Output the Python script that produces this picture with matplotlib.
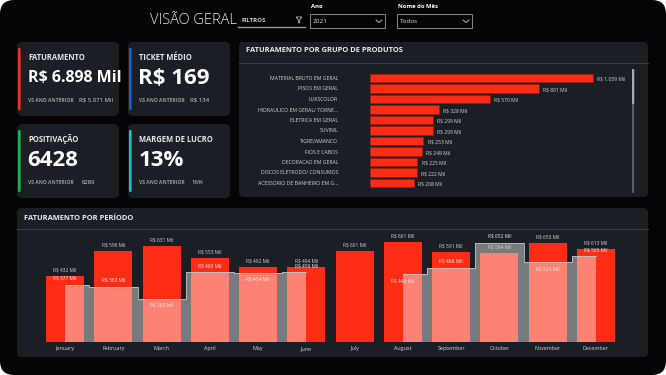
import numpy as np
import matplotlib
matplotlib.use("Agg")
import matplotlib.pyplot as plt
from matplotlib.patches import FancyBboxPatch, Rectangle, Polygon

plt.rcParams['font.family'] = ['Open Sans', 'DejaVu Sans']

# ---- data ----
kpi_titles = ['FATURAMENTO', 'TICKET MÉDIO', 'POSITIVAÇÃO', 'MARGEM DE LUCRO']
kpi_values = ['R$ 6.898 Mil', 'R$ 169', '6428', '13%']
kpi_previous = ['R$ 5.071 Mil', 'R$ 134', '6289', '16%']

groups = ['MATERIAL BRUTO EM GERAL', 'PISOS EM GERAL', 'LUKSCOLOR',
          'HIDRAULICO EM GERAL/ TORNE...', 'ELETRICA EM GERAL', 'SUVINIL',
          'TIGRE/AMANCO', 'FIOS E CABOS', 'DECORACAO EM GERAL',
          'DISCOS ELETRODO/ CONSUMOS', 'ACESSORIO DE BANHEIRO EM G...']
group_values = [1059, 801, 570, 328, 299, 299, 253, 248, 225, 222, 208]

months = ['January', 'February', 'March', 'April', 'May', 'June', 'July',
          'August', 'September', 'October', 'November', 'December']
sales_2021 = [432, 596, 631, 553, 492, 494, 601, 661, 591, 584, 650, 613]
sales_2020 = [377, 363, 283, 460, 454, 459, np.nan, 445, 488, 652, 524, 565]

# ---- style ----
W, H = 666, 375
BG = '#050505'
CARD = '#1b1e24'
RED = '#fe2c14'
TXT = '#d6d6d6'
accent = ['#f0302a', '#1464d2', '#1fb157', '#12c3d6']


def rect(x, y, w, h):
    return [x / W, 1 - (y + h) / H, w / W, h / H]


def fmt(v):
    return 'R$ ' + f'{v:,.0f}'.replace(',', '.') + ' Mil'


fig = plt.figure(figsize=(W / 100, H / 100), dpi=100, facecolor='white')
bg = fig.add_axes([0, 0, 1, 1])
bg.set_xlim(0, W)
bg.set_ylim(H, 0)
bg.axis('off')
bg.add_patch(FancyBboxPatch((0, 0), W, H, boxstyle='round,pad=0,rounding_size=14',
                            fc=BG, ec='none'))


def card(x, y, w, h):
    bg.add_patch(FancyBboxPatch((x, y), w, h, boxstyle='round,pad=0,rounding_size=5',
                                fc=CARD, ec='none'))


# header
bg.text(150, 21, 'VISÃO GERAL', color='#e8e8e8', fontsize=10.5, fontweight='light',
        va='center', ha='left')
bg.text(241, 20, 'FILTROS', color='#cfcfcf', fontsize=4.4, fontweight='bold', va='center')
bg.plot([238, 305], [27, 27], color='#9a9a9a', lw=1)
bg.add_patch(Polygon([[296, 17], [302, 17], [299.7, 20], [299.7, 23], [298.3, 22.5], [298.3, 20]],
                     closed=True, fc='none', ec='#bbbbbb', lw=0.6))
for x0, lab, val in [(310, 'Ano', '2021'), (397, 'Nome do Mês', 'Todos')]:
    bg.text(x0 + 1, 6, lab, color='white', fontsize=4.2, fontweight='bold', va='center')
    bg.add_patch(Rectangle((x0, 14), 75, 14, fc='none', ec='#8a8a8a', lw=0.7))
    bg.text(x0 + 3, 21.5, val, color='#e0e0e0', fontsize=4.6, va='center')
    bg.plot([x0 + 66, x0 + 69, x0 + 72], [20, 22.5, 20], color='#cfcfcf', lw=0.6)

# KPI cards
pos = [(17, 42), (128, 42), (17, 124), (128, 124)]
for i, (x0, y0) in enumerate(pos):
    card(x0, y0, 102, 74)
    bg.add_patch(FancyBboxPatch((x0 + 1, y0 + 6), 2.6, 62, boxstyle='round,pad=0,rounding_size=1.2',
                                fc=accent[i], ec='none'))
    tx = x0 + 11
    bg.text(tx, y0 + 15, kpi_titles[i], color='#e6e6e6', fontsize=5.5,
            fontweight='bold', va='center')
    big = 11.5 if i == 0 else 16
    bg.text(tx - 0.5, y0 + 36, kpi_values[i], color='white', fontsize=big,
            fontweight='bold', va='center')
    bg.text(tx, y0 + 58, 'VS ANO ANTERIOR', color='#9a9a9a', fontsize=3.6,
            fontweight='bold', va='center')
    bg.text(tx + [51, 51, 54, 52][i], y0 + 58, kpi_previous[i], color='#d8d8d8',
            fontsize=4.3, va='center')

# product group card
card(239, 42, 409, 155)
bg.text(246, 51, 'FATURAMENTO POR GRUPO DE PRODUTOS', color='#ececec', fontsize=5.4,
        fontweight='bold', va='center')
bg.plot([239, 648], [63, 63], color='#3a3d44', lw=0.8)
bg.add_patch(FancyBboxPatch((632, 69), 2.2, 124, boxstyle='round,pad=0,rounding_size=1',
                            fc='#5a5d63', ec='none'))
bg.add_patch(FancyBboxPatch((632, 69), 2.2, 35, boxstyle='round,pad=0,rounding_size=1',
                            fc='#a9abb0', ec='none'))

ax1 = fig.add_axes(rect(370, 72.75, 260, 115.5))
ax1.set_facecolor('none')
yy = np.arange(len(groups))
ax1.barh(yy, group_values, height=0.83, color=RED, edgecolor='#9a1a0c', lw=0.4)
ax1.set_xlim(0, 260 / 0.2107)
ax1.set_ylim(len(groups) - 0.5, -0.5)
ax1.set_yticks(yy, groups)
ax1.tick_params(axis='y', length=0, pad=23, labelsize=3.7, labelcolor=TXT)
ax1.set_xticks([])
for s in ax1.spines.values():
    s.set_visible(False)
for i, v in enumerate(group_values):
    ax1.text(v + 20, i + 0.1, fmt(v), color=TXT, fontsize=3.6, va='center', ha='left')

# period card
card(17, 208, 631, 149)
bg.text(24, 218, 'FATURAMENTO POR PERÍODO', color='#ececec', fontsize=5.4,
        fontweight='bold', va='center')
bg.plot([17, 648], [229, 229], color='#3a3d44', lw=0.8)

ax2 = fig.add_axes(rect(41, 232, 579, 110))
ax2.set_facecolor('none')
x = np.arange(len(months))
ax2.bar(x, sales_2021, width=0.79, color=RED, lw=0)
prev = np.array(sales_2020, dtype=float)
ok = ~np.isnan(prev)
seg_breaks = np.split(x[ok], np.where(np.diff(x[ok]) > 1)[0] + 1)
for seg in seg_breaks:
    ax2.fill_between(seg, prev[seg], step='mid', color='white', alpha=0.41, lw=0)
    ax2.step(seg, prev[seg], where='mid', color='#c4c4c4', lw=0.6)
ax2.set_xlim(-0.5, len(months) - 0.5)
ax2.set_ylim(0, 110 / 0.152)
ax2.set_yticks([])
ax2.set_xticks(x, months)
ax2.tick_params(axis='x', length=0, pad=3, labelsize=3.9, labelcolor=TXT)
for s in ax2.spines.values():
    s.set_visible(False)

prev_side = [1, 1, -1, 1, -1, 1, 0, -1, 1, 1, -1, 1]
px = 1 / 0.152
for i, v in enumerate(sales_2021):
    ax2.text(i, v + 6 * px, fmt(v), color=TXT, fontsize=3.5, ha='center', va='center')
for i, v in enumerate(sales_2020):
    if np.isnan(v):
        continue
    ax2.text(i, v + prev_side[i] * 6.5 * px, fmt(v), color='#f0f0f0', fontsize=3.5,
             ha='center', va='center')

fig.savefig('out.png', dpi=100, facecolor='white')
